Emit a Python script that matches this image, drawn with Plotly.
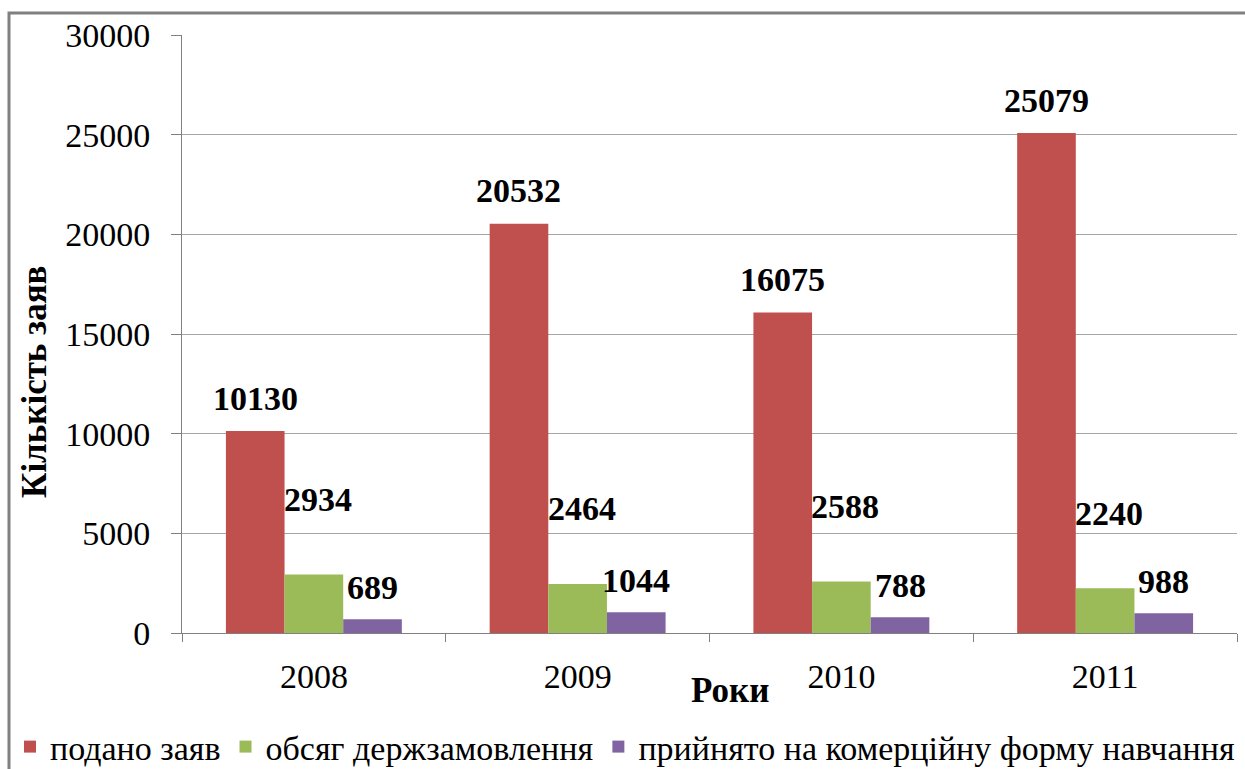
import plotly.graph_objects as go

years = ["2008", "2009", "2010", "2011"]
series_names = ["подано заяв", "обсяг держзамовлення", "прийнято на комерційну форму навчання"]
submitted = [10130, 20532, 16075, 25079]
state_order = [2934, 2464, 2588, 2240]
commercial = [689, 1044, 788, 988]
y_ticks = [0, 5000, 10000, 15000, 20000, 25000, 30000]

colors = ["#C0504D", "#9BBB59", "#8064A2"]
values = [submitted, state_order, commercial]

W, H = 1245, 769
L, R, T, B = 182, 8, 35, 136
pw, ph = W - L - R, H - T - B

font = "Liberation Serif, Times New Roman, serif"

fig = go.Figure()
for name, vals, c in zip(series_names, values, colors):
    fig.add_trace(go.Bar(x=years, y=vals, name=name, marker=dict(color=c, line=dict(width=0))))

# data labels (manually offset as in the original)
bar_px = pw / 4 * (1 - 0.333) / 3
xshifts = [-bar_px, 4, bar_px]
yshifts = [33, 75, 32]
for i, vals in enumerate(values):
    for j, v in enumerate(vals):
        fig.add_annotation(x=j, y=v, text="<b>%d</b>" % v, showarrow=False, xshift=xshifts[i],
                           yshift=yshifts[i], font=dict(family=font, size=34, color="black"),
                           xanchor="center", yanchor="middle")

# axis titles
fig.add_annotation(xref="paper", yref="paper", x=(730 - L) / pw, y=(H - B - 690) / ph, text="<b>Роки</b>",
                   showarrow=False, font=dict(family=font, size=35, color="black"), xanchor="center", yanchor="middle")
fig.add_annotation(xref="paper", yref="paper", x=(35 - L) / pw, y=(H - B - 382) / ph, text="<b>Кількість заяв</b>",
                   showarrow=False, textangle=-90, font=dict(family=font, size=35, color="black"),
                   xanchor="center", yanchor="middle")

# outer frame
fig.add_shape(type="rect", xref="paper", yref="paper",
              x0=(9 - L) / pw, x1=(W + 10 - L) / pw, y0=(H - B - (H + 10)) / ph, y1=(H - B - 13) / ph,
              line=dict(color="#808080", width=3), fillcolor="rgba(0,0,0,0)", layer="below")

fig.update_layout(
    width=W, height=H,
    margin=dict(l=L, r=R, t=T, b=B, autoexpand=False),
    paper_bgcolor="white", plot_bgcolor="white",
    barmode="group", bargap=0.333, bargroupgap=0,
    showlegend=True,
    legend=dict(orientation="h", x=(10 - L) / pw, xanchor="left", y=(H - B - 718) / ph, yanchor="top",
                font=dict(family=font, size=34, color="black"), itemwidth=30, tracegroupgap=0,
                bgcolor="rgba(0,0,0,0)"),
    font=dict(family=font, color="black"),
)
fig.update_xaxes(type="category", range=[-0.5, 3.5], tickson="boundaries", ticks="outside", ticklen=8,
                 tickcolor="#808080", showline=True, linecolor="#808080", linewidth=1, showgrid=False,
                 tickfont=dict(family=font, size=34, color="black"), ticklabelstandoff=13)
fig.update_yaxes(range=[0, 30000], tickvals=y_ticks, tickformat="d", ticks="outside", ticklen=10,
                 tickcolor="#808080", showline=True, linecolor="#808080", linewidth=1,
                 showgrid=True, gridcolor="#A6A6A6", gridwidth=1, zeroline=False,
                 tickfont=dict(family=font, size=34, color="black"), ticklabelstandoff=14)

fig.write_html("out.html", config={"displayModeBar": False},
               post_script="document.body.style.margin='0';document.body.style.overflow='hidden';")
